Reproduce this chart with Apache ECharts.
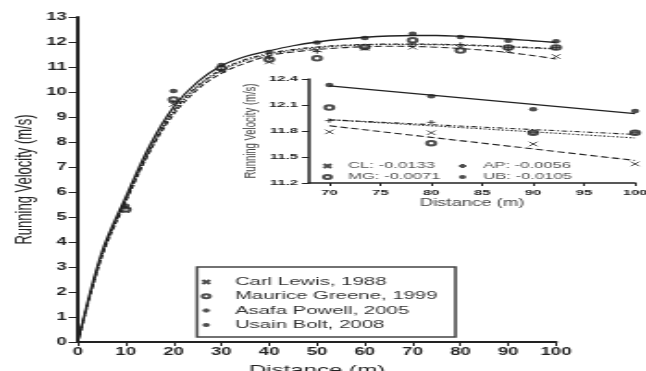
<!DOCTYPE html>
<html>
<head>
<meta charset="utf-8">
<script src="https://cdn.jsdelivr.net/npm/echarts@6/dist/echarts.min.js"></script>
<style>
html,body{margin:0;padding:0;background:#fff;overflow:hidden;width:646px;height:371px;}
#chart{width:349px;height:371px;transform:scaleX(1.8510);transform-origin:0 0;}
</style>
</head>
<body>
<div id="chart"></div>
<script>
// ---- data ----
const athletes = ['Carl Lewis, 1988', 'Maurice Greene, 1999', 'Asafa Powell, 2005', 'Usain Bolt, 2008'];
const slopeLabels = ['CL: -0.0133', 'MG: -0.0071', 'AP: -0.0056', 'UB: -0.0105'];
const splitDistances = [10, 20, 30, 40, 50, 60, 70, 80, 90, 100];
const clSplits = [5.25, 9.5, 10.85, 11.2, 11.68, 11.74, 11.79, 11.78, 11.65, 11.42];
const mgSplits = [5.3, 9.7, 10.95, 11.3, 11.35, 11.8, 12.07, 11.66, 11.78, 11.78];
const apSplits = [5.35, 9.6, 10.9, 11.36, 11.62, 11.76, 11.92, 11.9, 11.78, 11.78];
const ubSplits = [5.45, 10.04, 11.08, 11.6, 11.98, 12.16, 12.33, 12.2, 12.05, 12.03];

const curveDistances = [0, 5, 10, 15, 20, 25, 30, 35, 40, 45, 50, 55, 60, 65, 70, 75, 80, 85, 90, 95, 100];
const clCurve = [0, 3.4, 5.6, 7.6, 9.1, 10.1, 10.75, 11.15, 11.45, 11.6, 11.7, 11.77, 11.81, 11.83, 11.82, 11.79, 11.74, 11.67, 11.58, 11.46, 11.32];
const mgCurve = [0, 3.45, 5.65, 7.65, 9.2, 10.2, 10.85, 11.25, 11.5, 11.66, 11.77, 11.84, 11.88, 11.9, 11.9, 11.89, 11.87, 11.84, 11.8, 11.76, 11.72];
const apCurve = [0, 3.5, 5.7, 7.7, 9.25, 10.25, 10.9, 11.3, 11.55, 11.7, 11.8, 11.87, 11.9, 11.92, 11.92, 11.91, 11.89, 11.86, 11.82, 11.78, 11.74];
const ubCurve = [0, 3.6, 5.8, 7.85, 9.4, 10.4, 11.05, 11.42, 11.65, 11.85, 12.0, 12.11, 12.19, 12.24, 12.26, 12.26, 12.23, 12.18, 12.12, 12.05, 11.98];

const insetDistances = [70, 80, 90, 100];
const fitEnds = [70, 100];
const clFit = [11.86, 11.46];
const mgFit = [11.93, 11.72];
const apFit = [11.93, 11.76];
const ubFit = [12.32, 12.0];

const mainXTicks = [0, 10, 20, 30, 40, 50, 60, 70, 80, 90, 100];
const insetXTicks = [70, 75, 80, 85, 90, 95, 100];

// ---- helpers ----
const INK = '#222';
const FONT = '"Liberation Sans", Arial, sans-serif';
const crossPath = 'path://M0,0L10,10M10,0L0,10';
const plusPath = 'path://M5,0L5,10M0,5L10,5';
const pair = (xs, ys) => xs.map((x, i) => [x, ys[i]]);
const symbolDefs = [
  {symbol: crossPath, itemStyle: {color: 'none', borderColor: INK, borderWidth: 1}},
  {symbol: 'emptyCircle', itemStyle: {color: INK, borderWidth: 1}},
  {symbol: plusPath, itemStyle: {color: 'none', borderColor: INK, borderWidth: 1}},
  {symbol: 'circle', itemStyle: {color: INK}}
];
const splitsAll = [clSplits, mgSplits, apSplits, ubSplits];
const curvesAll = [clCurve, mgCurve, apCurve, ubCurve];
const fitsAll = [clFit, mgFit, apFit, ubFit];
const curveStyles = [
  {type: [4, 2], width: 1.1},
  {type: [1.2, 1.2], width: 1.1},
  {type: [3, 1.5, 1, 1.5], width: 1.1},
  {type: 'solid', width: 1.3}
];

const series = [];
curvesAll.forEach((c, i) => {
  series.push({
    name: 'curve' + i, type: 'line', xAxisIndex: 0, yAxisIndex: 0,
    data: pair(curveDistances, c), smooth: 0.35,
    showSymbol: false, silent: true, lineStyle: Object.assign({color: INK}, curveStyles[i]), z: 2
  });
});
splitsAll.forEach((s, i) => {
  series.push(Object.assign({
    name: athletes[i], type: 'scatter', xAxisIndex: 0, yAxisIndex: 0,
    data: pair(splitDistances, s), symbolSize: 4.5, z: 3
  }, symbolDefs[i]));
});
fitsAll.forEach((f, i) => {
  series.push({
    name: 'fit' + i, type: 'line', xAxisIndex: 1, yAxisIndex: 1,
    data: pair(fitEnds, f), showSymbol: false, silent: true,
    lineStyle: Object.assign({color: INK}, curveStyles[i]), z: 2
  });
});
splitsAll.forEach((s, i) => {
  const idx0 = splitDistances.indexOf(insetDistances[0]);
  series.push(Object.assign({
    name: slopeLabels[i], type: 'scatter', xAxisIndex: 1, yAxisIndex: 1,
    data: pair(insetDistances, s.slice(idx0, idx0 + insetDistances.length)),
    symbolSize: 4.5, z: 3
  }, symbolDefs[i]));
});

const axisCommon = (w) => ({
  axisLine: {show: true, onZero: false, lineStyle: {color: INK, width: w}},
  splitLine: {show: false}
});

const option = {
  animation: false,
  backgroundColor: '#fff',
  textStyle: {fontFamily: FONT},
  grid: [
    {left: 42.1, right: 48.6, top: 17, bottom: 29, containLabel: false, outerBoundsMode: 'none'},
    {left: 166.9, right: 5.9, top: 79, bottom: 188, containLabel: false, outerBoundsMode: 'none'}
  ],
  xAxis: [
    Object.assign(axisCommon(2), {
      type: 'value', gridIndex: 0, min: 0, max: 100, interval: 10,
      name: 'Distance (m)', nameLocation: 'middle', nameGap: 22,
      nameTextStyle: {fontSize: 13, color: INK, fontFamily: FONT},
      axisTick: {show: true, length: 4, lineStyle: {color: INK}},
      axisLabel: {fontSize: 10, fontWeight: 'bold', color: INK, margin: 5, fontFamily: FONT,
        formatter: v => mainXTicks.includes(v) ? String(v) : ''}
    }),
    Object.assign(axisCommon(1.5), {
      type: 'value', gridIndex: 1, min: 68, max: 100,
      name: 'Distance (m)', nameLocation: 'middle', nameGap: 15,
      nameTextStyle: {fontSize: 10, color: '#444', fontFamily: FONT},
      axisTick: {show: true, length: 3, customValues: insetXTicks, lineStyle: {color: INK}},
      axisLabel: {fontSize: 8, fontWeight: 'bold', color: INK, margin: 5.5, fontFamily: FONT,
        customValues: insetXTicks}
    })
  ],
  yAxis: [
    Object.assign(axisCommon(2), {
      type: 'value', gridIndex: 0, min: 0, max: 13, interval: 1,
      name: 'Running Velocity (m/s)', nameLocation: 'middle', nameGap: 22.6, nameMoveOverlap: false,
      nameTextStyle: {fontSize: 13, color: INK, fontFamily: FONT},
      axisTick: {show: true, length: 5, lineStyle: {color: INK}},
      axisLabel: {fontSize: 10, fontWeight: 'bold', color: INK, margin: 6, fontFamily: FONT}
    }),
    Object.assign(axisCommon(1.5), {
      type: 'value', gridIndex: 1, min: 11.2, max: 12.4, interval: 0.3,
      name: 'Running Velocity (m/s)', nameLocation: 'middle', nameGap: 26.5, nameMoveOverlap: false,
      nameTextStyle: {fontSize: 9.5, color: '#444', fontFamily: FONT},
      axisTick: {show: true, length: 3.8, lineStyle: {color: INK}},
      axisLabel: {fontSize: 8, fontWeight: 'bold', color: INK, margin: 6, fontFamily: FONT,
        formatter: v => Number(v).toFixed(1)}
    })
  ],
  legend: [
    {
      data: athletes, orient: 'vertical', left: 106.4, top: 267,
      padding: [9.5, 9.7, 6.5, 0.5], itemWidth: 21, itemHeight: 4, itemGap: 3.3,
      borderColor: '#444', borderWidth: 1.5, selectedMode: false,
      textStyle: {fontSize: 11, lineHeight: 11, color: '#333', fontFamily: FONT}
    },
    {
      data: [slopeLabels[0], slopeLabels[1]], orient: 'vertical', left: 172.4, top: 161.5,
      padding: 0, itemWidth: 12, itemHeight: 4, itemGap: 2, selectedMode: false,
      textStyle: {fontSize: 9, lineHeight: 9, color: '#555', fontFamily: FONT}
    },
    {
      data: [slopeLabels[2], slopeLabels[3]], orient: 'vertical', left: 245.4, top: 161.5,
      padding: 0, itemWidth: 12, itemHeight: 4, itemGap: 2, selectedMode: false,
      textStyle: {fontSize: 9, lineHeight: 9, color: '#555', fontFamily: FONT}
    }
  ],
  series: series
};

const chart = echarts.init(document.getElementById('chart'), null, {renderer: 'canvas'});
chart.setOption(option);
</script>
</body>
</html>
